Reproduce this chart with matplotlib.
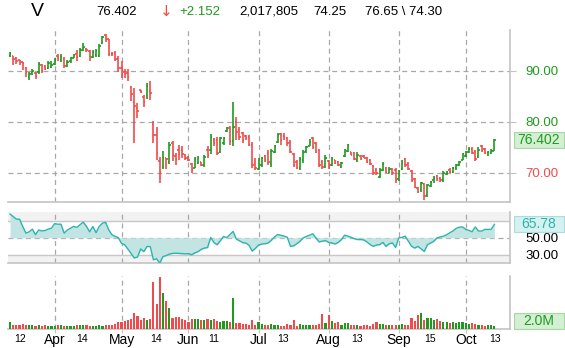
import matplotlib
matplotlib.use("Agg")
import matplotlib.pyplot as plt
from matplotlib.patches import Rectangle
import numpy as np

plt.rcParams['font.family'] = ['Liberation Sans', 'DejaVu Sans']

# daily OHLC
opens = [93.0, 92.9, 92.6, 92.1, 91.7, 90.5, 88.8, 89.6, 89.7, 89.8,
         91.1, 91.0, 90.5, 90.8, 91.4, 93.0, 92.2, 92.3, 91.0, 91.9,
         92.6, 93.3, 93.0, 94.1, 94.4, 94.0, 92.7, 93.2, 92.9, 95.5,
         97.0, 96.2, 93.4, 93.5, 92.3, 90.5, 89.9, 89.6, 86.8, 84.0,
         82.8, 86.2, 84.9, 85.0, 86.0, 79.7, 77.5, 72.3, 71.2, 73.0,
         72.2, 75.8, 73.3, 74.6, 74.5, 73.5, 73.0, 71.8, 71.0, 72.0,
         72.1, 71.5, 74.6, 74.5, 76.5, 76.5, 74.2, 75.8, 78.2, 78.9,
         76.2, 80.0, 78.5, 77.8, 77.2, 77.0, 75.5, 71.8, 70.8, 71.6,
         73.3, 74.0, 71.8, 74.2, 76.0, 77.6, 77.2, 76.8, 76.0, 73.8,
         72.2, 70.9, 72.5, 74.3, 75.2, 76.8, 75.8, 74.5, 72.1, 71.3,
         72.4, 71.5, 72.5, 72.1, 71.2, 73.3, 74.3, 74.1, 74.0, 72.5,
         73.3, 73.4, 73.0, 72.6, 71.4, 70.6, 69.3, 70.5, 71.0, 70.0,
         70.7, 70.6, 68.8, 70.8, 72.8, 71.8, 70.4, 68.9, 67.0, 66.6,
         67.8, 65.6, 67.4, 68.6, 69.4, 69.0, 68.6, 69.8, 70.5, 70.1,
         70.9, 71.6, 72.6, 73.3, 74.2, 74.8, 74.4, 73.2, 75.3, 74.8,
         73.9, 74.0, 74.30]
highs = [93.7, 93.0, 92.7, 92.2, 91.8, 90.7, 89.8, 90.3, 89.9, 91.8,
         91.4, 91.2, 91.9, 92.0, 92.5, 93.3, 93.3, 92.7, 92.1, 92.8,
         93.3, 94.1, 94.5, 95.4, 94.5, 94.2, 94.1, 94.4, 95.3, 96.8,
         97.3, 96.3, 93.7, 93.9, 93.0, 91.9, 90.3, 90.3, 87.0, 86.6,
         83.8, 86.3, 85.3, 87.6, 88.0, 80.1, 79.1, 73.2, 74.4, 73.0,
         76.1, 76.2, 73.9, 75.5, 75.3, 73.7, 73.3, 72.0, 73.2, 73.3,
         72.2, 73.5, 75.2, 77.6, 76.8, 77.1, 77.1, 77.1, 79.1, 79.2,
         83.9, 81.0, 79.0, 78.1, 77.5, 77.5, 76.1, 72.9, 72.9, 73.2,
         73.5, 74.5, 74.8, 75.5, 77.8, 77.8, 77.8, 77.1, 76.5, 73.9,
         72.5, 73.2, 74.5, 75.3, 76.6, 77.1, 76.1, 74.8, 72.5, 73.5,
         72.5, 73.2, 72.6, 72.3, 72.2, 74.8, 75.7, 74.2, 74.2, 74.1,
         73.5, 73.6, 73.1, 72.7, 71.6, 70.9, 70.9, 72.1, 71.2, 71.2,
         70.9, 70.9, 70.6, 72.5, 73.0, 72.1, 70.6, 69.0, 67.2, 68.3,
         68.1, 67.9, 68.5, 69.4, 69.6, 69.3, 70.3, 70.3, 70.9, 71.2,
         71.7, 72.3, 73.9, 74.3, 75.0, 75.0, 74.6, 75.0, 75.5, 74.9,
         74.4, 74.8, 76.65]
lows = [92.7, 91.1, 91.4, 91.2, 90.1, 88.8, 88.2, 89.3, 88.5, 89.5,
        89.6, 90.1, 90.3, 90.5, 91.2, 92.0, 91.7, 90.5, 90.7, 91.6,
        92.5, 91.9, 92.8, 94.0, 93.7, 92.0, 92.5, 92.7, 92.7, 95.2,
        95.6, 92.9, 92.9, 91.9, 89.9, 88.6, 88.6, 88.1, 84.1, 75.8,
        80.7, 85.6, 83.0, 84.5, 84.3, 75.8, 72.5, 68.1, 70.7, 70.8,
        71.8, 72.4, 71.6, 72.5, 72.9, 72.5, 72.4, 69.9, 70.9, 71.8,
        71.4, 71.2, 72.9, 73.7, 75.2, 73.5, 73.9, 75.5, 78.1, 75.5,
        75.2, 76.5, 76.5, 75.8, 76.5, 75.2, 70.9, 70.6, 70.6, 71.2,
        72.2, 71.6, 71.2, 73.9, 75.8, 75.5, 76.5, 75.2, 73.9, 71.2,
        70.7, 70.6, 72.0, 74.0, 75.2, 74.8, 73.9, 71.2, 70.8, 71.0,
        70.8, 71.3, 71.8, 71.3, 70.9, 73.2, 74.2, 73.5, 72.5, 72.2,
        72.5, 72.9, 71.9, 71.6, 69.6, 69.6, 69.0, 70.3, 69.9, 69.9,
        69.6, 68.0, 68.4, 70.6, 71.2, 70.6, 68.3, 67.0, 66.0, 66.3,
        64.8, 65.3, 67.2, 68.0, 68.5, 68.3, 68.3, 69.6, 69.9, 70.0,
        70.6, 71.4, 72.5, 73.2, 73.9, 73.8, 72.4, 73.0, 74.2, 73.8,
        73.4, 73.8, 74.30]
closes = [93.4, 92.3, 92.0, 91.7, 91.6, 89.9, 89.4, 90.0, 89.0, 91.3,
          90.0, 90.4, 91.5, 91.2, 92.2, 92.5, 92.8, 90.9, 91.8, 92.5,
          93.2, 92.8, 94.1, 94.8, 94.2, 92.8, 93.7, 94.0, 95.0, 96.6,
          96.3, 93.3, 93.3, 92.3, 90.5, 89.5, 89.5, 88.8, 85.5, 83.2,
          82.2, 85.8, 84.0, 87.0, 85.6, 77.4, 74.0, 70.2, 72.9, 72.8,
          75.5, 73.5, 72.8, 73.8, 73.8, 72.9, 72.6, 70.5, 72.8, 73.0,
          71.6, 73.2, 73.6, 77.0, 75.8, 74.0, 76.8, 76.9, 78.9, 76.3,
          79.0, 78.0, 77.0, 76.5, 76.9, 75.5, 71.5, 70.9, 72.5, 72.9,
          72.5, 72.2, 74.3, 75.3, 77.5, 76.5, 77.0, 75.8, 74.2, 71.6,
          70.9, 72.8, 74.2, 75.0, 76.1, 75.1, 74.2, 71.6, 71.2, 73.0,
          71.0, 72.8, 72.0, 71.5, 72.0, 74.6, 75.4, 73.6, 72.8, 73.6,
          72.8, 73.0, 72.2, 71.8, 70.0, 70.0, 70.6, 71.8, 70.1, 70.8,
          70.0, 68.6, 70.3, 72.2, 71.6, 70.8, 68.6, 67.3, 66.2, 68.0,
          65.5, 67.6, 68.3, 69.1, 68.8, 68.6, 70.0, 70.2, 70.2, 71.0,
          71.5, 72.1, 73.7, 74.1, 74.8, 74.0, 72.8, 74.6, 74.5, 74.0,
          74.2, 74.25, 76.402]

rsi = [77.9, 75.0, 71.9, 71.9, 63.4, 55.5, 57.0, 60.2, 53.6, 59.2,
       58.1, 58.6, 60.2, 61.3, 66.6, 66.0, 66.0, 55.5, 59.2, 61.3,
       63.4, 62.3, 65.5, 68.4, 63.4, 57.0, 63.4, 56.0, 63.4, 67.2,
       68.2, 59.2, 53.6, 51.7, 50.2, 43.3, 41.8, 36.7, 31.6, 26.3,
       27.4, 36.9, 33.7, 39.8, 39.6, 24.2, 25.3, 20.2, 28.0, 29.0,
       30.8, 31.6, 31.9, 31.6, 31.2, 31.1, 31.4, 30.0, 32.2, 33.7,
       36.4, 37.9, 38.5, 50.4, 44.3, 41.8, 46.5, 51.5, 50.2, 53.9,
       57.5, 48.6, 46.5, 44.3, 43.8, 41.2, 34.3, 37.5, 41.5, 42.7,
       43.0, 43.9, 47.0, 51.0, 53.9, 53.0, 52.0, 50.7, 40.0, 40.5,
       43.0, 45.9, 49.9, 51.5, 53.1, 54.7, 49.9, 45.1, 46.0, 46.7,
       44.5, 43.9, 42.7, 44.5, 47.9, 53.1, 52.0, 50.7, 49.0, 47.9,
       47.9, 47.5, 45.1, 42.0, 39.9, 41.5, 41.9, 44.5, 39.9, 43.0,
       43.9, 38.7, 49.9, 50.5, 51.9, 45.9, 40.0, 37.9, 39.9, 37.0,
       33.9, 41.9, 43.9, 45.9, 49.9, 51.0, 51.9, 53.5, 55.9, 58.0,
       61.1, 62.5, 62.8, 59.9, 58.7, 57.1, 62.8, 58.0, 57.9, 59.9,
       59.9, 59.9, 65.78]

# volume in millions
volume = [5.2, 3.2, 2.8, 3.2, 3.6, 2.8, 2.8, 2.8, 2.4, 2.8, 2.4,
          2.8, 2.4, 2.4, 2.0, 2.8, 2.8, 2.4, 2.4, 2.0, 2.0,
          2.8, 3.2, 3.2, 3.2, 2.0, 2.0, 2.4, 2.8, 2.4, 2.8,
          3.2, 3.2, 3.6, 5.2, 5.6, 6.0, 6.8, 7.6, 12.8, 10.0,
          6.8, 8.4, 7.2, 8.0, 37.6, 19.6, 41.6, 28.8, 22.4, 16.8,
          8.8, 9.2, 9.2, 7.6, 6.8, 5.2, 7.6, 7.6, 8.0, 6.8,
          6.8, 8.0, 7.2, 8.0, 6.4, 5.6, 6.0, 6.4, 5.6, 24.4,
          4.8, 4.8, 4.0, 4.0, 3.2, 7.2, 2.8, 5.6, 4.0, 3.2,
          3.2, 4.0, 2.8, 3.2, 2.4, 2.4, 4.0, 3.2, 7.2, 2.4,
          3.6, 3.2, 3.2, 2.8, 3.2, 3.2, 4.0, 11.6, 4.8, 10.8,
          6.4, 4.4, 5.6, 3.2, 4.8, 4.8, 3.2, 2.8, 3.2, 2.4,
          2.8, 3.2, 2.4, 4.0, 5.2, 4.0, 4.0, 3.2, 2.8, 3.2,
          3.2, 2.8, 4.0, 3.2, 3.2, 8.8, 6.4, 11.2, 12.4, 7.2,
          8.4, 8.4, 7.2, 8.0, 6.4, 5.6, 5.6, 4.8, 5.6, 4.8,
          5.6, 5.6, 4.8, 4.0, 4.8, 4.0, 3.2, 2.8, 2.0, 2.8,
          2.8, 2.0]

month_pos = [14, 35, 56, 78, 100, 122, 143]
month_labels = ['Apr', 'May', 'Jun', 'Jul', 'Aug', 'Sep', 'Oct']
day_pos = [3.3, 22.5, 45.8, 63.9, 85.6, 108.9, 131.7, 152.3]
day_labels = ['12', '14', '14', '11', '13', '13', '15', '13']
price_ticks = [70, 80, 90]

RED = '#f24a4a'
GREEN = '#1f9a1f'
GRID = '#a8a8a8'
SPINE = '#c4c4c4'
TEAL = '#2db3ae'

W, H = 565, 348
fig = plt.figure(figsize=(W / 100, H / 100), dpi=100)


def box(x0, y0, x1, y1):
    return [x0 / W, 1 - y1 / H, (x1 - x0) / W, (y1 - y0) / H]


ax_p = fig.add_axes(box(8, 30, 510, 202))
ax_r = fig.add_axes(box(8, 212.3, 510, 263.3))
ax_v = fig.add_axes(box(8, 276, 510, 328.6))

x = np.arange(len(closes))
up = np.array(closes) > np.array(opens)
cols = np.where(up, GREEN, RED)

for ax in (ax_p, ax_r, ax_v):
    ax.set_xlim(-0.63, 156.9)
    for s in ax.spines.values():
        s.set_color(SPINE)
        s.set_linewidth(1.2)
    ax.spines['top'].set_visible(False)
    ax.spines['left'].set_visible(False)
    for m in month_pos:
        ax.axvline(m, color=GRID, lw=0.9, ls=(0, (4, 3)), zorder=1)
    ax.set_facecolor('white')

# price panel
ax_p.set_ylim(64.31, 98.04)
for p in price_ticks:
    ax_p.axhline(p, color=GRID, lw=0.9, ls=(0, (4, 3)), zorder=1)
ax_p.vlines(x, lows, highs, colors=cols, lw=1.2, zorder=3)
ax_p.hlines(opens, x - 0.45, x, colors=cols, lw=1.2, zorder=3)
ax_p.hlines(closes, x, x + 0.45, colors=cols, lw=1.2, zorder=3)
ax_p.yaxis.tick_right()
ax_p.set_yticks(price_ticks)
ax_p.set_yticklabels([f'{p:.2f}' for p in price_ticks], fontsize=9.5)
for lab, p in zip(ax_p.get_yticklabels(), price_ticks):
    lab.set_color(GREEN if p > closes[-1] else RED)
ax_p.tick_params(axis='y', length=4, color=SPINE, pad=7)
ax_p.set_xticks([])

# RSI panel
ax_r.set_ylim(20, 80)
ax_r.axhspan(70, 80, color='#f1f2f1', zorder=0)
ax_r.axhspan(20, 30, color='#f1f2f1', zorder=0)
ax_r.axhline(70, color='#c8c8c8', lw=1, zorder=1)
ax_r.axhline(30, color='#c8c8c8', lw=1, zorder=1)
ax_r.axhline(50, color=GRID, lw=0.9, ls=(0, (4, 3)), zorder=1)
ax_r.fill_between(x, rsi, 50, color='#c2e5e3', lw=0, zorder=2)
ax_r.plot(x, rsi, color=TEAL, lw=1, zorder=3)
ax_r.yaxis.tick_right()
ax_r.set_yticks([30, 50])
ax_r.set_yticklabels(['30.00', '50.00'], fontsize=9.5)
ax_r.tick_params(axis='y', length=0, pad=11)
ax_r.set_xticks([])

# volume panel
ax_v.set_ylim(0, 42.1)
ax_v.bar(x, volume, width=0.68, color=cols, zorder=3)
ax_v.set_yticks([])
ax_v.set_xticks(month_pos)
ax_v.set_xticklabels([])
ax_v.tick_params(axis='x', length=3, color=SPINE)
for m, lab in zip(month_pos, month_labels):
    ax_v.annotate(lab, xy=(m, 0), xycoords=('data', 'axes fraction'),
                  xytext=(0, -11), textcoords='offset pixels',
                  ha='center', va='center', fontsize=10)
for d, lab in zip(day_pos, day_labels):
    ax_v.annotate(lab, xy=(d, 0), xycoords=('data', 'axes fraction'),
                  xytext=(0, -10), textcoords='offset pixels',
                  ha='center', va='center', fontsize=7.5)


def value_box(ax, value, text, fc, ec, tc, clamp=None):
    yp = ax.transData.transform((0, value))[1]
    if clamp is not None:
        yp = max(yp, clamp)
    fig.add_artist(Rectangle((514 / W, (yp - 8) / H), 50 / W, 16 / H,
                             transform=fig.transFigure, fc=fc, ec=ec, lw=0.8))
    fig.text(539 / W, yp / H, text, color=tc, ha='center', va='center',
             fontsize=10)


value_box(ax_p, closes[-1], f'{closes[-1]:.3f}', '#d4efd4', '#a6d8a6', GREEN)
value_box(ax_r, rsi[-1], f'{rsi[-1]:.2f}', '#d5f1f0', '#a8dedb', TEAL)
value_box(ax_v, volume[-1], f'{volume[-1]:.1f}M', '#d4efd4', '#a6d8a6', GREEN,
          clamp=H - 320.6)

# quote header
hy = 1 - 12 / H
fig.text(31 / W, hy, 'V', fontsize=14, va='center')
fig.text(96 / W, hy, f'{closes[-1]:.3f}', fontsize=9.5, va='center')
fig.text(160 / W, hy, '↓', fontsize=11, va='center', color=RED,
         family='DejaVu Sans')
fig.text(179 / W, hy, '+2.152', fontsize=9.5, va='center', color=GREEN)
fig.text(239 / W, hy, '2,017,805', fontsize=9.5, va='center')
fig.text(313 / W, hy, '74.25', fontsize=9.5, va='center')
fig.text(365 / W, hy, '76.65 \\ 74.30', fontsize=9.5, va='center')

fig.savefig('out.png', dpi=100)
